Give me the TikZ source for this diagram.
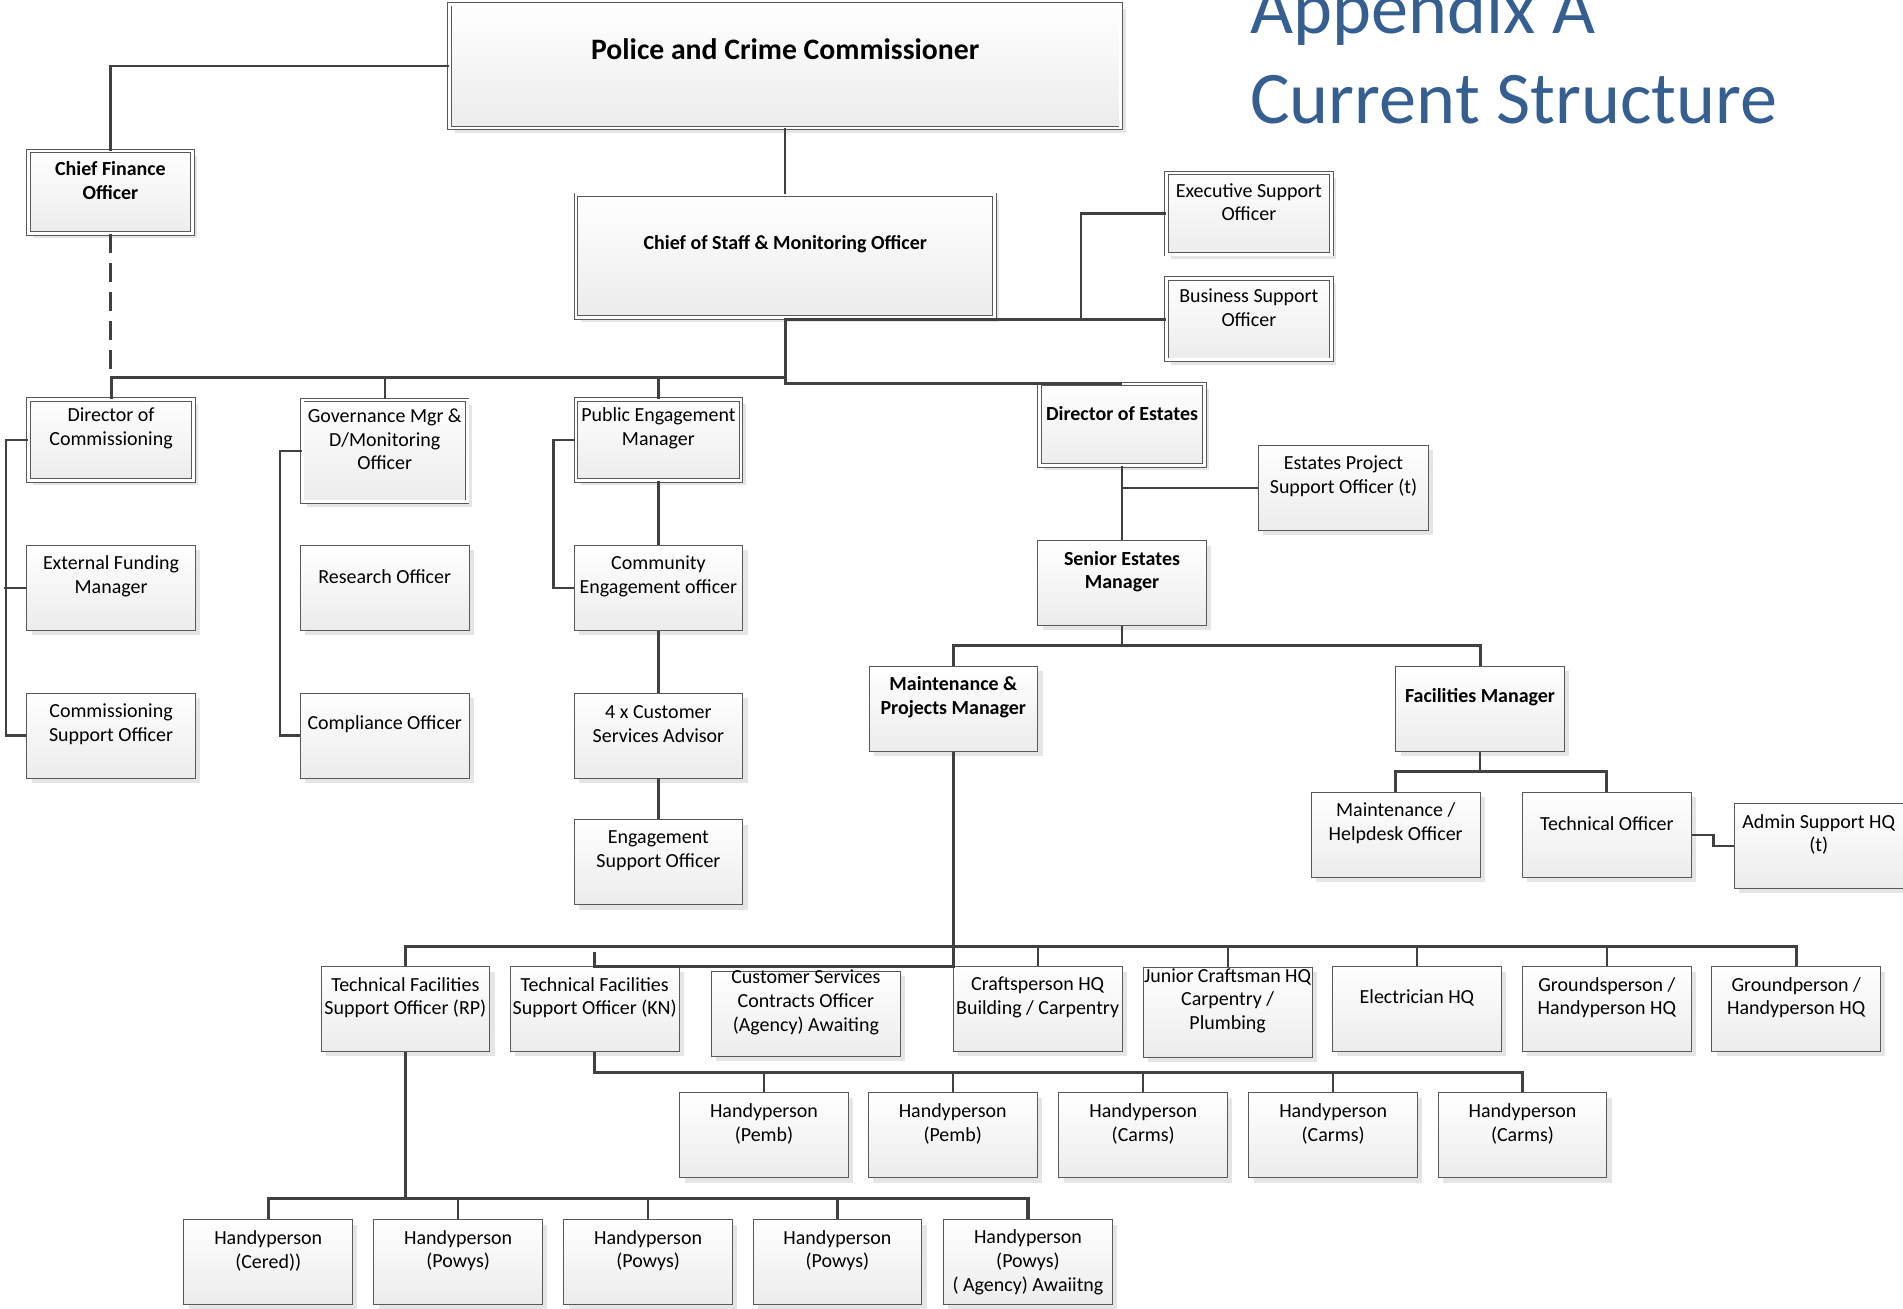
\documentclass[tikz,border=0pt]{standalone}
\usepackage{fontspec}
\setmainfont{Carlito}
\usetikzlibrary{shadows}
\definecolor{bordo}{RGB}{89,89,89}
\definecolor{filo}{RGB}{64,64,64}
\definecolor{blu}{RGB}{54,95,145}

\begin{document}
\begin{tikzpicture}[
		x=0.025cm, y=-0.025cm,
		box/.style={rectangle, draw=bordo, line width=0.5pt, inner sep=0pt,
			top color=white, bottom color=gray!15,
			drop shadow={shadow xshift=4*\upx, shadow yshift=-4*\upx,
				fill=gray!45, opacity=0.45},
			minimum width=139*\upx, minimum height=70*\upx},
		boxD/.style={box, double=white, double distance=1.6pt,
			minimum width=136*\upx, minimum height=67*\upx},
		txt/.style={font=\fontsize{11.7}{13.9}\selectfont, align=center,
			inner sep=0pt, yshift=9.5*\upx},
		txtB/.style={txt, font=\fontsize{11.7}{13.9}\selectfont\bfseries},
		testo/.style={label={[txt]center:{#1}}},
		testoB/.style={label={[txtB]center:{#1}}},
		conn/.style={draw=filo, line width=1.3pt},
		connK/.style={conn, line width=1.8pt},
		connT/.style={conn, dash pattern=on 11pt off 6pt},
		titolo/.style={font=\fontsize{43.5}{52}\selectfont, text=blu, inner sep=0pt}]
	
	\def\upx{0.025cm}     %% un pixel del disegno
	\def\yBus{311}        %% linea sotto il Chief of Staff
	\def\yRowA{779.5}     %% prima fila in basso
	\def\yRowB{884}       %% handyperson (KN)
	\def\yRowC{987.5}     %% handyperson (RP)
	
	\useasboundingbox (0,0) rectangle (1568,1078);
	
	%% --- titolo ---
	\node[titolo, anchor=base west] (ttlA) at (1030,28) {Appendix A};
	\node[titolo, anchor=base west] (ttlB) at (1030,102) {Current Structure};
	
	%% --- vertice ---
	\node[boxD, minimum width=553*\upx, minimum height=102*\upx,
		label={[txtB, font=\fontsize{17.4}{21}\selectfont\bfseries, yshift=4.5*\upx]center:Police and Crime Commissioner}]
		(pcc) at (647,54.5) {};
	\node[boxD, minimum height=68*\upx, minimum width=135*\upx,
		testoB={Chief Finance\\Officer}] (cfo) at (91,158.5) {};
	\node[boxD, minimum width=345*\upx, minimum height=101*\upx,
		testoB={Chief of Staff \& Monitoring Officer}] (cos) at (647,211) {};
	\node[boxD, testo={Executive Support\\Officer}] (eso) at (1029,176) {};
	\node[boxD, testo={Business Support\\Officer}] (bso) at (1029,263) {};
	
	%% --- colonne sotto il Chief of Staff ---
	\node[boxD, testo={Director of\\Commissioning}] (doc) at (91.5,362.5) {};
	\node[box, testo={External Funding\\Manager}] (efm) at (91.5,484.5) {};
	\node[box, testo={Commissioning\\Support Officer}] (cso) at (91.5,606) {};
	
	\node[boxD, minimum height=84*\upx,
		testo={Governance Mgr \&\\D/Monitoring\\Officer}] (gov) at (317,371.5) {};
	\node[box, testo={Research Officer}] (res) at (317,484.5) {};
	\node[box, testo={Compliance Officer}] (comp) at (317,606) {};
	
	\node[boxD, testo={Public Engagement\\Manager}] (pem) at (542.5,362.5) {};
	\node[box, testo={Community\\Engagement officer}] (ceo) at (542.5,484.5) {};
	\node[box, testo={4 x Customer\\Services Advisor}] (csa) at (542.5,606) {};
	\node[box, testo={Engagement\\Support Officer}] (engs) at (542.5,710.5) {};
	
	%% --- estates ---
	\node[boxD, testoB={Director of Estates}] (doe) at (924.5,350) {};
	\node[box, minimum width=140*\upx,
		testo={Estates Project\\Support Officer (t)}] (epso) at (1107,402) {};
	\node[box, testoB={Senior Estates\\Manager}] (sem) at (924.5,480.5) {};
	\node[box, testoB={Maintenance \&\\Projects Manager}] (mpm) at (785.5,584) {};
	\node[box, testoB={Facilities Manager}] (fm) at (1219.5,584) {};
	\node[box, testo={Maintenance /\\Helpdesk Officer}] (mho) at (1150,688) {};
	\node[box, testo={Technical Officer}] (tec) at (1324,688) {};
	\node[box, testo={Admin Support HQ\\(t)}] (ashq) at (1498.5,697) {};
	
	%% --- prima fila in basso ---
	\node[box, testo={Technical Facilities\\Support Officer (RP)}] (rp) at (334,831.5) {};
	\node[box, testo={Technical Facilities\\Support Officer (KN)}] (kn) at (490,831.5) {};
	\node[box, minimum width=156*\upx,
		testo={Customer Services\\Contracts Officer\\(Agency) Awaiting}] (csco) at (664,835.5) {};
	\node[box, testo={Craftsperson HQ\\Building / Carpentry}] (cf) at (855,831.5) {};
	\node[box, minimum height=74*\upx,
		testo={Junior Craftsman HQ\\Carpentry /\\Plumbing}] (jc) at (1011.5,834) {};
	\node[box, testo={Electrician HQ}] (el) at (1167.5,831.5) {};
	\node[box, testo={Groundsperson /\\Handyperson HQ}] (gh1) at (1324,831.5) {};
	\node[box, testo={Groundperson /\\Handyperson HQ}] (gh2) at (1480,831.5) {};
	
	%% --- handyperson (KN) ---
	\node[box, testo={Handyperson\\(Pemb)}] (hp1) at (629.5,935.5) {};
	\node[box, testo={Handyperson\\(Pemb)}] (hp2) at (785,935.5) {};
	\node[box, testo={Handyperson\\(Carms)}] (hc1) at (942,935.5) {};
	\node[box, testo={Handyperson\\(Carms)}] (hc2) at (1098.5,935.5) {};
	\node[box, testo={Handyperson\\(Carms)}] (hc3) at (1254.5,935.5) {};
	
	%% --- handyperson (RP) ---
	\node[box, testo={Handyperson\\(Cered))}] (hy1) at (221,1040) {};
	\node[box, testo={Handyperson\\(Powys)}] (hy2) at (377.5,1040) {};
	\node[box, testo={Handyperson\\(Powys)}] (hy3) at (534,1040) {};
	\node[box, testo={Handyperson\\(Powys)}] (hy4) at (690,1040) {};
	\node[box, label={[txt, yshift=-9.5*\upx]center:{Handyperson\\(Powys)\\( Agency) Awaiitng}}]
		(hy5) at (847,1040) {};
	
	%% --- collegamenti in alto ---
	\draw[conn] (pcc.west) -| (cfo.north);
	\draw[connT] (cfo.south) -- (cfo.south |- 0,\yBus);
	\draw[conn] (pcc.south) -- (cos.north);
	\draw[connK] (cos.south) |- (doe.north);
	\draw[connK] (doc.north) |- (cos.south |- 0,\yBus);
	\foreach \n in {gov,pem}
		\draw[conn] (\n.north) -- (\n.north |- 0,\yBus);
	\draw[connK] (bso.west -| cos.south) -- (bso.west);
	\draw[conn] (bso.west) ++(-70,0) |- (eso.west);
	
	%% --- staffe laterali ---
	\draw[conn] (doc.west) -- ++(-18,0) |- (cso.west);
	\draw[conn] (efm.west) -- ++(-18,0);
	\draw[conn] (gov.west) -- ++(-18,0) |- (comp.west);
	\draw[conn] (pem.west) -- ++(-18,0) |- (ceo.west);
	\draw[conn] (pem.south) -- (ceo.north);
	\draw[conn] (ceo.south) -- (csa.north);
	\draw[conn] (csa.south) -- (engs.north);
	
	%% --- estates ---
	\draw[conn] (doe.south) -- (sem.north);
	\draw[conn] (epso.west) -- (epso.west -| doe.south);
	\draw[conn] (sem.south) -- (sem.south |- 0,532);
	\draw[connK] (mpm.north) |- (fm.north |- 0,532) -- (fm.north);
	\draw[conn] (fm.south) -- (fm.south |- 0,636);
	\draw[connK] (mho.north) |- (tec.north |- 0,636) -- (tec.north);
	\draw[conn] (tec.east) -- ++(18,0) |- (ashq.west);
	
	%% --- file in basso ---
	\draw[connK] (mpm.south) -- (mpm.south |- kn.north) -- (kn.north) -- ++(0,-12);
	\draw[connK] (rp.north) |- (gh2.north |- 0,\yRowA) -- (gh2.north);
	\foreach \n in {cf,jc,el,gh1}
		\draw[conn] (\n.north) -- (\n.north |- 0,\yRowA);
	
	\draw[connK] (kn.south) |- (hc3.north |- 0,\yRowB) -- (hc3.north);
	\foreach \n in {hp1,hp2,hc1,hc2}
		\draw[conn] (\n.north) -- (\n.north |- 0,\yRowB);
	
	\draw[connK] (rp.south) -- (rp.south |- 0,\yRowC);
	\draw[connK] (hy1.north) |- (hy5.north |- 0,\yRowC) -- (hy5.north);
	\foreach \n in {hy2,hy3,hy4}
		\draw[conn] (\n.north) -- (\n.north |- 0,\yRowC);
	
\end{tikzpicture}
\end{document}
